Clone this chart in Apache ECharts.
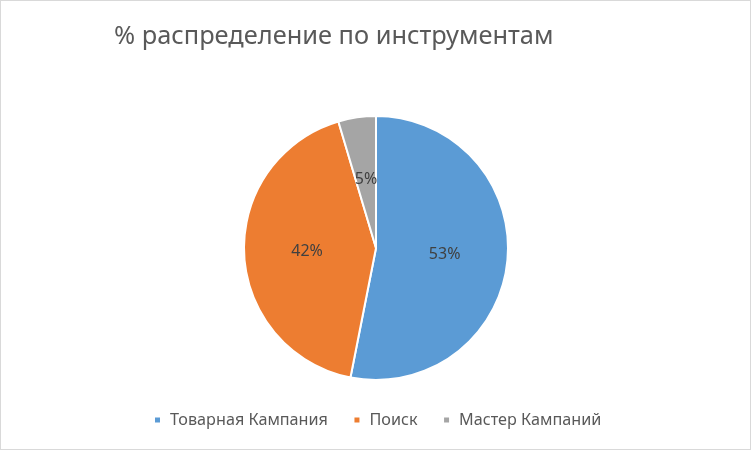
<!DOCTYPE html>
<html>
<head>
<meta charset="utf-8">
<script src="https://cdn.jsdelivr.net/npm/echarts@6/dist/echarts.min.js"></script>
<style>
    html, body { margin: 0; padding: 0; background: #fff; }
    #chart { width: 749px; height: 448px; border: 1px solid #D9D9D9; }
</style>
</head>
<body>
<div id="chart"></div>
<script>
// данные
var categories = ['Товарная Кампания', 'Поиск', 'Мастер Кампаний'];
var shares = [53.1, 42.3, 4.6];
var colors = ['#5B9BD5', '#ED7D31', '#A5A5A5'];

var chart = echarts.init(document.getElementById('chart'));

var seriesData = categories.map(function (name, i) {
    return {name: name, value: shares[i], itemStyle: {color: colors[i]}};
});

var option = {
    animation: false,
    textStyle: {fontFamily: 'Noto Sans'},
    title: {
        text: '% распределение по инструментам',
        left: 108,
        top: 18,
        textStyle: {
            color: '#595959',
            fontSize: 25.4,
            fontWeight: 'normal',
            fontFamily: 'Noto Sans'
        }
    },
    legend: {
        bottom: 16,
        left: 147,
        icon: 'rect',
        itemWidth: 7,
        itemHeight: 7,
        itemGap: 24.5,
        textStyle: {
            color: '#595959',
            fontSize: 16.2,
            fontFamily: 'Noto Sans',
            padding: [0, 0, 0, 4]
        },
        data: categories
    },
    series: [{
        type: 'pie',
        center: [375, 247],
        radius: [0, 132],
        startAngle: 90,
        clockwise: true,
        itemStyle: {borderColor: '#fff', borderWidth: 2},
        label: {
            show: true,
            position: 'inside',
            color: '#404040',
            fontSize: 16,
            fontFamily: 'Noto Sans',
            formatter: function (p) {
                return Math.round(p.percent) + '%';
            }
        },
        labelLine: {show: false},
        emphasis: {disabled: true},
        data: seriesData
    }]
};

chart.setOption(option);
</script>
</body>
</html>
